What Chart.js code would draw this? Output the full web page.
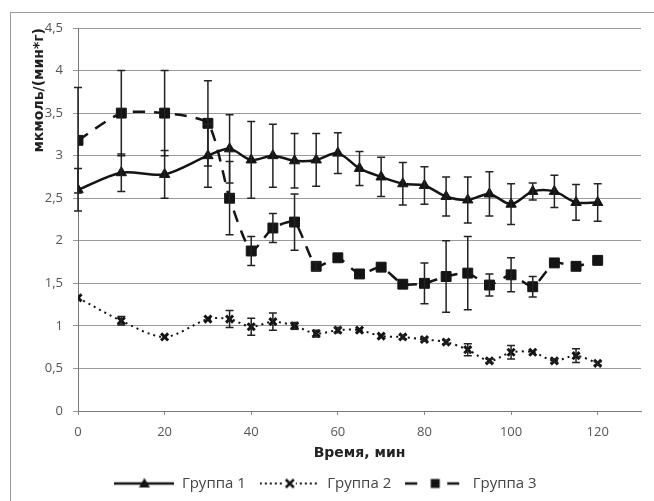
<!DOCTYPE html>
<html>
<head>
<meta charset="utf-8">
<script src="https://cdn.jsdelivr.net/npm/chart.js@4"></script>
<style>
  html, body { margin: 0; padding: 0; background: #fff; }
  #wrap { position: relative; width: 654px; height: 501px; }
  #frame { position: absolute; left: 10px; top: 12px; right: 0; bottom: 0; border-left: 1px solid #999; border-top: 1px solid #999; }
</style>
</head>
<body>
<div id="wrap">
  <div id="frame"></div>
  <canvas id="chart" width="654" height="501"></canvas>
</div>
<script>
// время, мин
var times = [0, 10, 20, 30, 35, 40, 45, 50, 55, 60, 65, 70, 75, 80, 85, 90, 95, 100, 105, 110, 115, 120];

var group1 = [2.6, 2.8, 2.78, 3.0, 3.08, 2.95, 3.0, 2.94, 2.95, 3.03, 2.85, 2.75, 2.67, 2.65, 2.52, 2.48, 2.55, 2.43, 2.58, 2.58, 2.45, 2.45];
var group2 = [1.33, 1.06, 0.87, 1.08, 1.08, 0.99, 1.05, 1.0, 0.91, 0.95, 0.95, 0.88, 0.87, 0.84, 0.81, 0.72, 0.59, 0.69, 0.69, 0.59, 0.65, 0.56];
var group3 = [3.18, 3.5, 3.5, 3.38, 2.5, 1.88, 2.15, 2.22, 1.7, 1.8, 1.61, 1.69, 1.49, 1.5, 1.58, 1.62, 1.48, 1.6, 1.46, 1.74, 1.7, 1.77];

// погрешности (±)
var err1 = [0.25, 0.22, 0.28, 0.37, 0.4, 0.45, 0.37, 0.32, 0.31, 0.24, 0.2, 0.23, 0.25, 0.22, 0.23, 0.27, 0.26, 0.24, 0.1, 0.19, 0.21, 0.22];
var err2 = [0, 0.05, 0, 0, 0.1, 0.1, 0.1, 0.04, 0.04, 0.03, 0, 0, 0.02, 0.02, 0.02, 0.07, 0.02, 0.08, 0, 0.02, 0.08, 0.02];
var err3 = [0.62, 0.5, 0.5, 0.5, 0.43, 0.17, 0.17, 0.33, 0.05, 0, 0, 0, 0, 0.24, 0.42, 0.43, 0.13, 0.2, 0.12, 0, 0, 0];

var seriesNames = ['Группа 1', 'Группа 2', 'Группа 3'];
var yTicks = [0, 0.5, 1, 1.5, 2, 2.5, 3, 3.5, 4, 4.5];
var xTicks = [0, 20, 40, 60, 80, 100, 120];

var ink = '#141414';

function pts(vals) {
	return times.map(function(t, i) { return {x: t, y: vals[i]}; });
}

// small pictures for legend: line + marker
function legendImg(dash, style) {
	var c = document.createElement('canvas');
	c.width = 60; c.height = 14;
	var g = c.getContext('2d');
	g.strokeStyle = ink;
	g.lineWidth = style == 'cross' ? 2 : 2.5;
	g.setLineDash(dash);
	g.beginPath(); g.moveTo(0, 7); g.lineTo(60, 7); g.stroke();
	g.setLineDash([]);
	g.fillStyle = ink;
	if (style == 'tri') {
		g.beginPath(); g.moveTo(30, 1.5); g.lineTo(35.5, 11); g.lineTo(24.5, 11); g.closePath(); g.fill();
	} else if (style == 'cross') {
		g.clearRect(24, 1, 12, 12);
		g.lineWidth = 2.5;
		g.beginPath(); g.moveTo(26, 3); g.lineTo(34, 11); g.moveTo(34, 3); g.lineTo(26, 11); g.stroke();
	} else {
		g.clearRect(20, 0, 20, 14);
		g.fillRect(25.5, 2.5, 9, 9);
	}
	return c;
}
var legendImgs = [legendImg([], 'tri'), legendImg([2, 3], 'cross'), legendImg([12, 9], 'rect')];

var errorBars = {
	id: 'errorBars',
	afterDatasetsDraw: function(chart) {
		var ctx = chart.ctx;
		var xs = chart.scales.x, ys = chart.scales.y;
		var errs = [err1, err2, err3];
		ctx.save();
		ctx.strokeStyle = '#222';
		ctx.lineWidth = 1.5;
		chart.data.datasets.forEach(function(ds, d) {
			ds.data.forEach(function(p, i) {
				var e = errs[d][i];
				if (!e) return;
				var x = xs.getPixelForValue(p.x);
				var y1 = ys.getPixelForValue(p.y + e);
				var y2 = ys.getPixelForValue(p.y - e);
				ctx.beginPath();
				ctx.moveTo(x, y1); ctx.lineTo(x, y2);
				ctx.moveTo(x - 4, y1); ctx.lineTo(x + 4, y1);
				ctx.moveTo(x - 4, y2); ctx.lineTo(x + 4, y2);
				ctx.stroke();
			});
		});
		ctx.restore();
	}
};

new Chart(document.getElementById('chart'), {
	type: 'line',
	data: {
		datasets: [
			{
				label: seriesNames[0],
				data: pts(group1),
				borderColor: ink, backgroundColor: ink,
				borderWidth: 2.5,
				pointStyle: 'triangle', pointRadius: 6,
				pointBorderWidth: 1,
				tension: 0.3
			},
			{
				label: seriesNames[1],
				data: pts(group2),
				borderColor: ink, backgroundColor: ink,
				borderWidth: 2,
				borderDash: [2, 4],
				pointStyle: 'crossRot', pointRadius: 5,
				pointBorderWidth: 3,
				tension: 0.3
			},
			{
				label: seriesNames[2],
				data: pts(group3),
				borderColor: ink, backgroundColor: ink,
				borderWidth: 2.5,
				borderDash: [12, 9],
				pointStyle: 'rect', pointRadius: 7,
				pointBorderWidth: 1,
				tension: 0.2
			}
		]
	},
	options: {
		responsive: false,
		animation: false,
		layout: { padding: { left: 10, right: 13, top: 28, bottom: 0 } },
		plugins: {
			tooltip: { enabled: false },
			legend: {
				position: 'bottom',
				labels: {
					usePointStyle: true,
					pointStyleWidth: 60,
					padding: 14,
					color: '#444',
					font: { family: 'Open Sans', size: 15 },
					generateLabels: function(chart) {
						return chart.data.datasets.map(function(ds, i) {
							return {
								text: ds.label, pointStyle: legendImgs[i],
								fillStyle: ink, strokeStyle: ink, lineWidth: 0,
								hidden: false, datasetIndex: i, fontColor: '#444'
							};
						});
					}
				}
			}
		},
		scales: {
			x: {
				type: 'linear',
				min: 0, max: 130,
				afterFit: function(s) { s.height = 51; },
				afterBuildTicks: function(s) {
					s.ticks = xTicks.map(function(v) { return {value: v}; });
				},
				ticks: {
					color: '#555', padding: 9,
					font: { family: 'Open Sans', size: 13 }
				},
				grid: { drawOnChartArea: false, drawTicks: true, tickLength: 4, color: '#888' },
				border: { color: '#777' },
				title: {
					display: true, text: 'Время, мин', color: '#222',
					font: { family: 'DejaVu Sans', size: 14, weight: 'bold' },
					padding: { top: 0, bottom: 0 }
				}
			},
			y: {
				min: 0, max: 4.5,
				afterFit: function(s) { s.width = 68; },
				afterBuildTicks: function(s) {
					s.ticks = yTicks.map(function(v) { return {value: v}; });
				},
				ticks: {
					color: '#555', padding: 10,
					font: { family: 'Open Sans', size: 13 },
					callback: function(v) { return String(v).replace('.', ','); }
				},
				grid: { color: '#999', drawTicks: true, tickLength: 5 },
				border: { color: '#777' },
				title: {
					display: true, text: 'мкмоль/(мин*г)', color: '#222', align: 'end',
					font: { family: 'DejaVu Sans', size: 14, weight: 'bold' },
					padding: { top: 21, bottom: 0 }
				}
			}
		}
	},
	plugins: [errorBars]
});
</script>
</body>
</html>
